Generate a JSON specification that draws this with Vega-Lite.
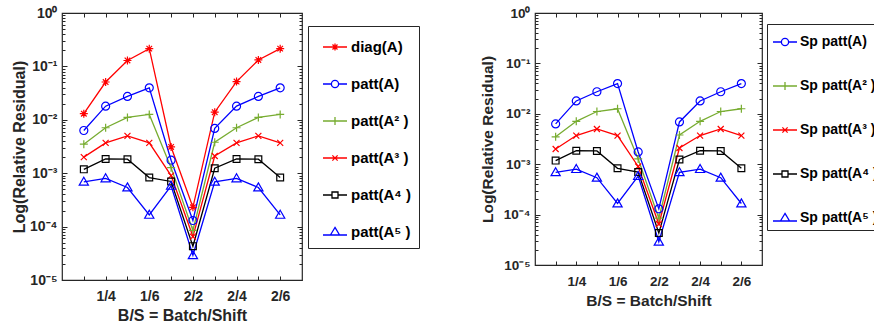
{
  "$schema": "https://vega.github.io/schema/vega-lite/v6.json",
  "background": "white",
  "padding": {"left": 10, "top": 5, "right": 0, "bottom": 0},
  "spacing": 58,
  "config": {
    "font": "Liberation Sans",
    "view": {"stroke": "#262626", "strokeWidth": 1.2},
    "axis": {
      "labelFont": "Liberation Sans", "labelFontWeight": "bold", "labelColor": "#262626",
      "titleFont": "Liberation Sans", "titleFontWeight": "bold", "titleColor": "#262626",
      "domain": false, "grid": false, "tickColor": "#262626", "tickWidth": 1,
      "labelFlush": false, "labelOverlap": false
    },
    "legend": {
      "labelFont": "Liberation Sans", "labelFontWeight": "bold", "labelColor": "#000000",
      "strokeColor": "#262626", "fillColor": "white", "symbolStrokeWidth": 1.3,
      "symbolFillColor": "transparent", "symbolSize": 576, "symbolOpacity": 1
    }
  },
  "datasets": {
    "left": [
      {"bs": "1/3", "s": "diag(A)", "v": 0.013}, {"bs": "1/4", "s": "diag(A)", "v": 0.051}, {"bs": "1/5", "s": "diag(A)", "v": 0.129}, {"bs": "1/6", "s": "diag(A)", "v": 0.215}, {"bs": "2/1", "s": "diag(A)", "v": 0.0031},
      {"bs": "2/2", "s": "diag(A)", "v": 0.00023}, {"bs": "2/3", "s": "diag(A)", "v": 0.0139}, {"bs": "2/4", "s": "diag(A)", "v": 0.052}, {"bs": "2/5", "s": "diag(A)", "v": 0.132}, {"bs": "2/6", "s": "diag(A)", "v": 0.215},
      {"bs": "1/3", "s": "patt(A)", "v": 0.0063}, {"bs": "1/4", "s": "patt(A)", "v": 0.018}, {"bs": "1/5", "s": "patt(A)", "v": 0.0274}, {"bs": "1/6", "s": "patt(A)", "v": 0.0397}, {"bs": "2/1", "s": "patt(A)", "v": 0.00175},
      {"bs": "2/2", "s": "patt(A)", "v": 0.00013}, {"bs": "2/3", "s": "patt(A)", "v": 0.0069}, {"bs": "2/4", "s": "patt(A)", "v": 0.018}, {"bs": "2/5", "s": "patt(A)", "v": 0.0274}, {"bs": "2/6", "s": "patt(A)", "v": 0.0397},
      {"bs": "1/3", "s": "patt(A² )", "v": 0.0035}, {"bs": "1/4", "s": "patt(A² )", "v": 0.0071}, {"bs": "1/5", "s": "patt(A² )", "v": 0.0111}, {"bs": "1/6", "s": "patt(A² )", "v": 0.0126}, {"bs": "2/1", "s": "patt(A² )", "v": 0.00127},
      {"bs": "2/2", "s": "patt(A² )", "v": 0.000085}, {"bs": "2/3", "s": "patt(A² )", "v": 0.0038}, {"bs": "2/4", "s": "patt(A² )", "v": 0.0071}, {"bs": "2/5", "s": "patt(A² )", "v": 0.0111}, {"bs": "2/6", "s": "patt(A² )", "v": 0.0126},
      {"bs": "1/3", "s": "patt(A³ )", "v": 0.002}, {"bs": "1/4", "s": "patt(A³ )", "v": 0.0037}, {"bs": "1/5", "s": "patt(A³ )", "v": 0.005}, {"bs": "1/6", "s": "patt(A³ )", "v": 0.0037}, {"bs": "2/1", "s": "patt(A³ )", "v": 0.0009},
      {"bs": "2/2", "s": "patt(A³ )", "v": 0.000065}, {"bs": "2/3", "s": "patt(A³ )", "v": 0.0021}, {"bs": "2/4", "s": "patt(A³ )", "v": 0.0037}, {"bs": "2/5", "s": "patt(A³ )", "v": 0.005}, {"bs": "2/6", "s": "patt(A³ )", "v": 0.0037},
      {"bs": "1/3", "s": "patt(A⁴ )", "v": 0.00118}, {"bs": "1/4", "s": "patt(A⁴ )", "v": 0.00185}, {"bs": "1/5", "s": "patt(A⁴ )", "v": 0.00183}, {"bs": "1/6", "s": "patt(A⁴ )", "v": 0.00083}, {"bs": "2/1", "s": "patt(A⁴ )", "v": 0.0007},
      {"bs": "2/2", "s": "patt(A⁴ )", "v": 0.000043}, {"bs": "2/3", "s": "patt(A⁴ )", "v": 0.00124}, {"bs": "2/4", "s": "patt(A⁴ )", "v": 0.00185}, {"bs": "2/5", "s": "patt(A⁴ )", "v": 0.00183}, {"bs": "2/6", "s": "patt(A⁴ )", "v": 0.00083},
      {"bs": "1/3", "s": "patt(A⁵ )", "v": 0.00069}, {"bs": "1/4", "s": "patt(A⁵ )", "v": 0.0008}, {"bs": "1/5", "s": "patt(A⁵ )", "v": 0.00054}, {"bs": "1/6", "s": "patt(A⁵ )", "v": 0.000166}, {"bs": "2/1", "s": "patt(A⁵ )", "v": 0.00058},
      {"bs": "2/2", "s": "patt(A⁵ )", "v": 0.000029}, {"bs": "2/3", "s": "patt(A⁵ )", "v": 0.00069}, {"bs": "2/4", "s": "patt(A⁵ )", "v": 0.0008}, {"bs": "2/5", "s": "patt(A⁵ )", "v": 0.00054}, {"bs": "2/6", "s": "patt(A⁵ )", "v": 0.000166}
    ],
    "right": [
      {"bs": "1/3", "s": "Sp patt(A)", "v": 0.0063}, {"bs": "1/4", "s": "Sp patt(A)", "v": 0.018}, {"bs": "1/5", "s": "Sp patt(A)", "v": 0.0274}, {"bs": "1/6", "s": "Sp patt(A)", "v": 0.0397}, {"bs": "2/1", "s": "Sp patt(A)", "v": 0.00175},
      {"bs": "2/2", "s": "Sp patt(A)", "v": 0.00013}, {"bs": "2/3", "s": "Sp patt(A)", "v": 0.0069}, {"bs": "2/4", "s": "Sp patt(A)", "v": 0.018}, {"bs": "2/5", "s": "Sp patt(A)", "v": 0.0274}, {"bs": "2/6", "s": "Sp patt(A)", "v": 0.0397},
      {"bs": "1/3", "s": "Sp patt(A² )", "v": 0.0035}, {"bs": "1/4", "s": "Sp patt(A² )", "v": 0.0071}, {"bs": "1/5", "s": "Sp patt(A² )", "v": 0.0111}, {"bs": "1/6", "s": "Sp patt(A² )", "v": 0.0126}, {"bs": "2/1", "s": "Sp patt(A² )", "v": 0.00127},
      {"bs": "2/2", "s": "Sp patt(A² )", "v": 0.000085}, {"bs": "2/3", "s": "Sp patt(A² )", "v": 0.0038}, {"bs": "2/4", "s": "Sp patt(A² )", "v": 0.0071}, {"bs": "2/5", "s": "Sp patt(A² )", "v": 0.0111}, {"bs": "2/6", "s": "Sp patt(A² )", "v": 0.0126},
      {"bs": "1/3", "s": "Sp patt(A³ )", "v": 0.002}, {"bs": "1/4", "s": "Sp patt(A³ )", "v": 0.0037}, {"bs": "1/5", "s": "Sp patt(A³ )", "v": 0.005}, {"bs": "1/6", "s": "Sp patt(A³ )", "v": 0.0037}, {"bs": "2/1", "s": "Sp patt(A³ )", "v": 0.0009},
      {"bs": "2/2", "s": "Sp patt(A³ )", "v": 0.000065}, {"bs": "2/3", "s": "Sp patt(A³ )", "v": 0.0021}, {"bs": "2/4", "s": "Sp patt(A³ )", "v": 0.0037}, {"bs": "2/5", "s": "Sp patt(A³ )", "v": 0.005}, {"bs": "2/6", "s": "Sp patt(A³ )", "v": 0.0037},
      {"bs": "1/3", "s": "Sp patt(A⁴ )", "v": 0.00118}, {"bs": "1/4", "s": "Sp patt(A⁴ )", "v": 0.00185}, {"bs": "1/5", "s": "Sp patt(A⁴ )", "v": 0.00183}, {"bs": "1/6", "s": "Sp patt(A⁴ )", "v": 0.00083}, {"bs": "2/1", "s": "Sp patt(A⁴ )", "v": 0.0007},
      {"bs": "2/2", "s": "Sp patt(A⁴ )", "v": 0.000043}, {"bs": "2/3", "s": "Sp patt(A⁴ )", "v": 0.00124}, {"bs": "2/4", "s": "Sp patt(A⁴ )", "v": 0.00185}, {"bs": "2/5", "s": "Sp patt(A⁴ )", "v": 0.00183}, {"bs": "2/6", "s": "Sp patt(A⁴ )", "v": 0.00083},
      {"bs": "1/3", "s": "Sp patt(A⁵ )", "v": 0.00069}, {"bs": "1/4", "s": "Sp patt(A⁵ )", "v": 0.0008}, {"bs": "1/5", "s": "Sp patt(A⁵ )", "v": 0.00054}, {"bs": "1/6", "s": "Sp patt(A⁵ )", "v": 0.000166}, {"bs": "2/1", "s": "Sp patt(A⁵ )", "v": 0.00058},
      {"bs": "2/2", "s": "Sp patt(A⁵ )", "v": 0.000029}, {"bs": "2/3", "s": "Sp patt(A⁵ )", "v": 0.00069}, {"bs": "2/4", "s": "Sp patt(A⁵ )", "v": 0.0008}, {"bs": "2/5", "s": "Sp patt(A⁵ )", "v": 0.00054}, {"bs": "2/6", "s": "Sp patt(A⁵ )", "v": 0.000166}
    ]
  },
  "resolve": {"scale": {"color": "independent", "shape": "independent"}, "legend": {"color": "independent", "shape": "independent"}},
  "hconcat": [
    {
      "width": 240, "height": 267,
      "data": {"name": "left"},
      "resolve": {"axis": {"x": "independent", "y": "independent"}, "scale": {"shape": "independent", "color": "independent"}},
      "layer": [
        {
          "mark": {"type": "line", "strokeWidth": 1.3},
          "encoding": {
            "x": {"field": "bs", "type": "ordinal", "sort": null,
              "scale": {"type": "point", "padding": 1, "domain": ["1/3","1/4","1/5","1/6","2/1","2/2","2/3","2/4","2/5","2/6"]},
              "axis": {"orient": "bottom", "title": "B/S = Batch/Shift", "titleFontSize": 16, "titlePadding": 4, "labelFontSize": 14, "labelAngle": 0, "tickSize": -4, "labelPadding": 13,
                "labelExpr": "indexof(['1/4','1/6','2/2','2/4','2/6'], datum.value) >= 0 ? datum.value : ''"}},
            "y": {"field": "v", "type": "quantitative",
              "scale": {"type": "log", "domain": [0.00001, 1]},
              "axis": {"orient": "left", "title": "Log(Relative Residual)", "titleFontSize": 16, "titlePadding": 2, "labelFontSize": 14, "labelPadding": 10,
                "values": [0.00001,0.00002,0.00003,0.00004,0.00005,0.00006,0.00007,0.00008,0.00009,0.0001,0.0002,0.0003,0.0004,0.0005,0.0006,0.0007,0.0008,0.0009,0.001,0.002,0.003,0.004,0.005,0.006,0.007,0.008,0.009,0.01,0.02,0.03,0.04,0.05,0.06,0.07,0.08,0.09,0.1,0.2,0.3,0.4,0.5,0.6,0.7,0.8,0.9,1],
                "tickSize": {"condition": {"test": "abs(log(datum.value)/LN10 - round(log(datum.value)/LN10)) < 0.001", "value": -5}, "value": -3},
                "labelExpr": "abs(log(datum.value)/LN10 - round(log(datum.value)/LN10)) < 0.001 ? '10' + ['⁰','⁻¹','⁻²','⁻³','⁻⁴','⁻⁵'][-round(log(datum.value)/LN10)] : ''"}},
            "color": {"field": "s", "type": "nominal", "legend": null,
              "scale": {"domain": ["diag(A)","patt(A)","patt(A² )","patt(A³ )","patt(A⁴ )","patt(A⁵ )"], "range": ["#FF0000","#0000FF","#77AC30","#FF0000","#000000","#0000FF"]}}
          }
        },
        {
          "mark": {"type": "point", "filled": false, "size": 64, "strokeWidth": 1.2, "opacity": 1},
          "encoding": {
            "x": {"field": "bs", "type": "ordinal", "sort": null,
              "scale": {"type": "point", "padding": 1, "domain": ["1/3","1/4","1/5","1/6","2/1","2/2","2/3","2/4","2/5","2/6"]},
              "axis": {"orient": "top", "title": null, "labels": false, "tickSize": -4}},
            "y": {"field": "v", "type": "quantitative",
              "scale": {"type": "log", "domain": [0.00001, 1]},
              "axis": {"orient": "right", "title": null, "labels": false,
                "values": [0.00001,0.00002,0.00003,0.00004,0.00005,0.00006,0.00007,0.00008,0.00009,0.0001,0.0002,0.0003,0.0004,0.0005,0.0006,0.0007,0.0008,0.0009,0.001,0.002,0.003,0.004,0.005,0.006,0.007,0.008,0.009,0.01,0.02,0.03,0.04,0.05,0.06,0.07,0.08,0.09,0.1,0.2,0.3,0.4,0.5,0.6,0.7,0.8,0.9,1],
                "tickSize": {"condition": {"test": "abs(log(datum.value)/LN10 - round(log(datum.value)/LN10)) < 0.001", "value": -5}, "value": -3}}},
            "color": {"field": "s", "type": "nominal", "legend": null,
              "scale": {"domain": ["diag(A)","patt(A)","patt(A² )","patt(A³ )","patt(A⁴ )","patt(A⁵ )"], "range": ["#FF0000","#0000FF","#77AC30","#FF0000","#000000","#0000FF"]}},
            "shape": {"field": "s", "type": "nominal", "legend": null,
              "scale": {"domain": ["diag(A)","patt(A)","patt(A² )","patt(A³ )","patt(A⁴ )","patt(A⁵ )"],
                "range": ["M-1,0H1M0,-1V1M-0.7,-0.7L0.7,0.7M-0.7,0.7L0.7,-0.7", "circle", "M-1,0H1M0,-1V1", "M-0.75,-0.75L0.75,0.75M-0.75,0.75L0.75,-0.75", "M-0.85,-0.85H0.85V0.85H-0.85Z", "M0,-1.15L1.15,0.85L-1.15,0.85Z"]}}
          }
        },
        {
          "transform": [{"filter": "false"}],
          "mark": {"type": "point", "filled": false, "strokeWidth": 1.3},
          "encoding": {
            "color": {"field": "s", "type": "nominal",
              "scale": {"domain": ["diag(A)","patt(A)","patt(A² )","patt(A³ )","patt(A⁴ )","patt(A⁵ )"], "range": ["#FF0000","#0000FF","#77AC30","#FF0000","#000000","#0000FF"]},
              "legend": {"title": null, "orient": "none", "legendX": 246, "legendY": 13, "padding": 8, "symbolOffset": 6, "rowPadding": 16, "labelOffset": 3, "labelFontSize": 15, "symbolSize": 576}},
            "shape": {"field": "s", "type": "nominal",
              "scale": {"domain": ["diag(A)","patt(A)","patt(A² )","patt(A³ )","patt(A⁴ )","patt(A⁵ )"],
                "range": ["M-1,0H1M0,-0.3V0.3M-0.21,-0.21L0.21,0.21M-0.21,0.21L0.21,-0.21", "M-1,0H-0.3M0.3,0H1M0.3,0A0.3,0.3 0 1,1 -0.3,0A0.3,0.3 0 1,1 0.3,0", "M-1,0H1M0,-0.33V0.33", "M-1,0H1M-0.22,-0.22L0.22,0.22M-0.22,0.22L0.22,-0.22", "M-1,0H-0.25M0.25,0H1M-0.25,-0.25H0.25V0.25H-0.25Z", "M-1,0.25H1M0,-0.38L0.38,0.25L-0.38,0.25Z"]},
              "legend": {"title": null, "orient": "none", "legendX": 246, "legendY": 13, "padding": 8, "symbolOffset": 6, "rowPadding": 16, "labelOffset": 3, "labelFontSize": 15, "symbolSize": 576}}
          }
        }
      ]
    },
    {
      "width": 227, "height": 252,
      "data": {"name": "right"},
      "resolve": {"axis": {"x": "independent", "y": "independent"}, "scale": {"shape": "independent", "color": "independent"}},
      "layer": [
        {
          "mark": {"type": "line", "strokeWidth": 1.3},
          "encoding": {
            "x": {"field": "bs", "type": "ordinal", "sort": null,
              "scale": {"type": "point", "padding": 1, "domain": ["1/3","1/4","1/5","1/6","2/1","2/2","2/3","2/4","2/5","2/6"]},
              "axis": {"orient": "bottom", "title": "B/S = Batch/Shift", "titleFontSize": 15.5, "titlePadding": 6, "labelFontSize": 13.5, "labelAngle": 0, "tickSize": -4, "labelPadding": 13,
                "labelExpr": "indexof(['1/4','1/6','2/2','2/4','2/6'], datum.value) >= 0 ? datum.value : ''"}},
            "y": {"field": "v", "type": "quantitative",
              "scale": {"type": "log", "domain": [0.00001, 1]},
              "axis": {"orient": "left", "title": "Log(Relative Residual)", "titleFontSize": 15.5, "titlePadding": 8, "labelFontSize": 13.5, "labelPadding": 10,
                "values": [0.00001,0.00002,0.00003,0.00004,0.00005,0.00006,0.00007,0.00008,0.00009,0.0001,0.0002,0.0003,0.0004,0.0005,0.0006,0.0007,0.0008,0.0009,0.001,0.002,0.003,0.004,0.005,0.006,0.007,0.008,0.009,0.01,0.02,0.03,0.04,0.05,0.06,0.07,0.08,0.09,0.1,0.2,0.3,0.4,0.5,0.6,0.7,0.8,0.9,1],
                "tickSize": {"condition": {"test": "abs(log(datum.value)/LN10 - round(log(datum.value)/LN10)) < 0.001", "value": -5}, "value": -3},
                "labelExpr": "abs(log(datum.value)/LN10 - round(log(datum.value)/LN10)) < 0.001 ? '10' + ['⁰','⁻¹','⁻²','⁻³','⁻⁴','⁻⁵'][-round(log(datum.value)/LN10)] : ''"}},
            "color": {"field": "s", "type": "nominal", "legend": null,
              "scale": {"domain": ["Sp patt(A)","Sp patt(A² )","Sp patt(A³ )","Sp patt(A⁴ )","Sp patt(A⁵ )"], "range": ["#0000FF","#77AC30","#FF0000","#000000","#0000FF"]}}
          }
        },
        {
          "mark": {"type": "point", "filled": false, "size": 64, "strokeWidth": 1.2, "opacity": 1},
          "encoding": {
            "x": {"field": "bs", "type": "ordinal", "sort": null,
              "scale": {"type": "point", "padding": 1, "domain": ["1/3","1/4","1/5","1/6","2/1","2/2","2/3","2/4","2/5","2/6"]},
              "axis": {"orient": "top", "title": null, "labels": false, "tickSize": -4}},
            "y": {"field": "v", "type": "quantitative",
              "scale": {"type": "log", "domain": [0.00001, 1]},
              "axis": {"orient": "right", "title": null, "labels": false,
                "values": [0.00001,0.00002,0.00003,0.00004,0.00005,0.00006,0.00007,0.00008,0.00009,0.0001,0.0002,0.0003,0.0004,0.0005,0.0006,0.0007,0.0008,0.0009,0.001,0.002,0.003,0.004,0.005,0.006,0.007,0.008,0.009,0.01,0.02,0.03,0.04,0.05,0.06,0.07,0.08,0.09,0.1,0.2,0.3,0.4,0.5,0.6,0.7,0.8,0.9,1],
                "tickSize": {"condition": {"test": "abs(log(datum.value)/LN10 - round(log(datum.value)/LN10)) < 0.001", "value": -5}, "value": -3}}},
            "color": {"field": "s", "type": "nominal", "legend": null,
              "scale": {"domain": ["Sp patt(A)","Sp patt(A² )","Sp patt(A³ )","Sp patt(A⁴ )","Sp patt(A⁵ )"], "range": ["#0000FF","#77AC30","#FF0000","#000000","#0000FF"]}},
            "shape": {"field": "s", "type": "nominal", "legend": null,
              "scale": {"domain": ["Sp patt(A)","Sp patt(A² )","Sp patt(A³ )","Sp patt(A⁴ )","Sp patt(A⁵ )"],
                "range": ["circle", "M-1,0H1M0,-1V1", "M-0.75,-0.75L0.75,0.75M-0.75,0.75L0.75,-0.75", "M-0.85,-0.85H0.85V0.85H-0.85Z", "M0,-1.15L1.15,0.85L-1.15,0.85Z"]}}
          }
        },
        {
          "transform": [{"filter": "false"}],
          "mark": {"type": "point", "filled": false, "strokeWidth": 1.3},
          "encoding": {
            "color": {"field": "s", "type": "nominal",
              "scale": {"domain": ["Sp patt(A)","Sp patt(A² )","Sp patt(A³ )","Sp patt(A⁴ )","Sp patt(A⁵ )"], "range": ["#0000FF","#77AC30","#FF0000","#000000","#0000FF"]},
              "legend": {"title": null, "orient": "none", "legendX": 232, "legendY": 11, "padding": 5, "symbolOffset": 0, "rowPadding": 24, "labelOffset": 2, "labelFontSize": 14, "symbolSize": 576}},
            "shape": {"field": "s", "type": "nominal",
              "scale": {"domain": ["Sp patt(A)","Sp patt(A² )","Sp patt(A³ )","Sp patt(A⁴ )","Sp patt(A⁵ )"],
                "range": ["M-1,0H-0.3M0.3,0H1M0.3,0A0.3,0.3 0 1,1 -0.3,0A0.3,0.3 0 1,1 0.3,0", "M-1,0H1M0,-0.33V0.33", "M-1,0H1M-0.22,-0.22L0.22,0.22M-0.22,0.22L0.22,-0.22", "M-1,0H-0.25M0.25,0H1M-0.25,-0.25H0.25V0.25H-0.25Z", "M-1,0.25H1M0,-0.38L0.38,0.25L-0.38,0.25Z"]},
              "legend": {"title": null, "orient": "none", "legendX": 232, "legendY": 11, "padding": 5, "symbolOffset": 0, "rowPadding": 24, "labelOffset": 2, "labelFontSize": 14, "symbolSize": 576}}
          }
        }
      ]
    }
  ]
}
